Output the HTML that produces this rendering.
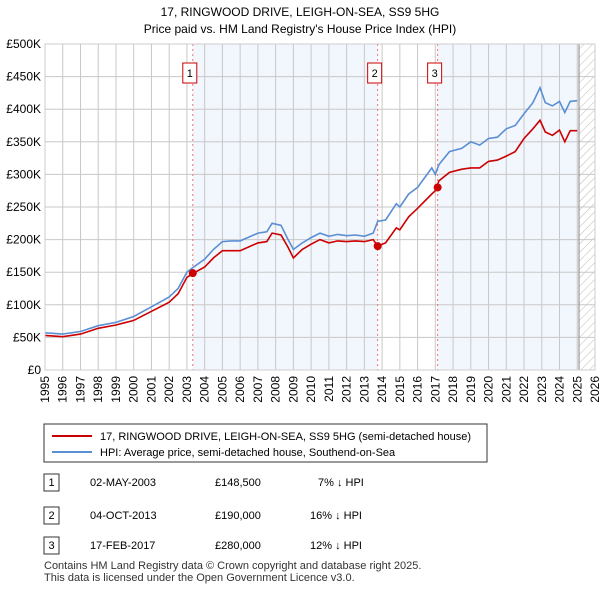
<!DOCTYPE html>
<html><head><meta charset="utf-8"><style>
body{margin:0;background:#fff;font-family:"Liberation Sans","DejaVu Sans",sans-serif;}
svg text{font-family:"Liberation Sans","DejaVu Sans",sans-serif;}
</style></head><body>
<svg width="600" height="590" xmlns="http://www.w3.org/2000/svg">
<defs><pattern id="hatch" width="6" height="6" patternUnits="userSpaceOnUse" patternTransform="rotate(45)"><line x1="0" y1="0" x2="0" y2="6" stroke="#bbb" stroke-width="1"/></pattern></defs>
<text x="300" y="16" text-anchor="middle" font-size="12">17, RINGWOOD DRIVE, LEIGH-ON-SEA, SS9 5HG</text>
<text x="300" y="33" text-anchor="middle" font-size="12">Price paid vs. HM Land Registry's House Price Index (HPI)</text>
<g id="plot"></g>
<g>
<rect x="44" y="424" width="443" height="38" fill="#fff" stroke="#333"/>
<line x1="52" y1="436" x2="92" y2="436" stroke="#cc0000" stroke-width="2"/>
<text x="100" y="440" font-size="11">17, RINGWOOD DRIVE, LEIGH-ON-SEA, SS9 5HG (semi-detached house)</text>
<line x1="52" y1="452" x2="92" y2="452" stroke="#5b8fd4" stroke-width="2"/>
<text x="100" y="456" font-size="11">HPI: Average price, semi-detached house, Southend-on-Sea</text>
</g>
<g font-size="11">
<rect x="44" y="474" width="15" height="17" fill="#fff" stroke="#333"/><text x="51.5" y="486" text-anchor="middle">1</text>
<text x="90" y="486">02-MAY-2003</text><text x="215" y="486">£148,500</text><text x="318" y="486">7% ↓ HPI</text>
<rect x="44" y="507" width="15" height="17" fill="#fff" stroke="#333"/><text x="51.5" y="519" text-anchor="middle">2</text>
<text x="90" y="519">04-OCT-2013</text><text x="215" y="519">£190,000</text><text x="310" y="519">16% ↓ HPI</text>
<rect x="44" y="537" width="15" height="17" fill="#fff" stroke="#333"/><text x="51.5" y="549" text-anchor="middle">3</text>
<text x="90" y="549">17-FEB-2017</text><text x="215" y="549">£280,000</text><text x="310" y="549">12% ↓ HPI</text>
</g>
<text x="44" y="569" font-size="11" fill="#333">Contains HM Land Registry data © Crown copyright and database right 2025.</text>
<text x="44" y="581" font-size="11" fill="#333">This data is licensed under the Open Government Licence v3.0.</text>
</svg>
<script>
const years=[1995,1996,1997,1998,1999,2000,2001,2002,2002.5,2003,2003.33,2004,2004.5,2005,2005.5,2006,2007,2007.5,2007.8,2008.3,2008.7,2009,2009.5,2010,2010.5,2011,2011.5,2012,2012.5,2013,2013.5,2013.75,2014.2,2014.8,2015,2015.5,2016,2016.8,2017,2017.2,2017.8,2018.5,2019,2019.5,2020,2020.5,2021,2021.5,2022,2022.5,2022.9,2023.2,2023.6,2024,2024.3,2024.6,2025];
const hpiValues=[57,55,59,68,73,82,97,112,125,150,157,170,185,197,198,198,210,212,225,222,200,185,195,203,210,205,208,206,207,205,210,228,230,255,250,270,280,310,300,315,335,340,350,345,355,357,370,375,393,410,433,410,405,412,395,412,413];
const priceValues=[53,51,55,64,69,76,90,104,117,142,148,158,172,183,183,183,195,197,210,207,188,172,185,193,200,195,198,197,198,197,200,190,195,218,215,235,248,270,275,290,303,308,310,310,320,322,328,335,355,370,383,365,360,368,350,367,367];
const saleYears=[2003.33,2013.75,2017.13];
const salePrices=[148.5,190,280];
const yTicks=[0,50,100,150,200,250,300,350,400,450,500];
const yLabels=["£0","£50K","£100K","£150K","£200K","£250K","£300K","£350K","£400K","£450K","£500K"];
const xTicks=[1995,1996,1997,1998,1999,2000,2001,2002,2003,2004,2005,2006,2007,2008,2009,2010,2011,2012,2013,2014,2015,2016,2017,2018,2019,2020,2021,2022,2023,2024,2025,2026];
const X0=45,X1=595,Y0=370,Y1=44;
const sx=y=>X0+(y-1995)/(2026-1995)*(X1-X0);
const sy=v=>Y0-v/500*(Y0-Y1);
const NS="http://www.w3.org/2000/svg";
const plot=document.getElementById('plot');
function mk(t,a){const e=document.createElementNS(NS,t);for(const k in a)e.setAttribute(k,a[k]);plot.appendChild(e);return e;}
let r=mk('rect',{x:sx(saleYears[0]),y:Y1,width:sx(saleYears[1])-sx(saleYears[0]),height:Y0-Y1,fill:'#f2f6fd'});

r=mk('rect',{x:sx(saleYears[2]),y:Y1,width:sx(2025.1)-sx(saleYears[2]),height:Y0-Y1,fill:'#f2f6fd'});

r=mk('rect',{x:sx(2025.1),y:Y1,width:X1-sx(2025.1),height:Y0-Y1,fill:'url(#hatch)'});

yTicks.forEach((v,i)=>{const l=mk('line',{x1:X0,x2:X1,y1:sy(v),y2:sy(v),stroke:'#c8c8c8'});

const t=mk('text',{x:X0-4,y:sy(v)+4,'text-anchor':'end','font-size':12});t.textContent=yLabels[i];
});
xTicks.forEach(y=>{const l=mk('line',{x1:sx(y),x2:sx(y),y1:Y1,y2:Y0,stroke:'#c8c8c8'});

const t=mk('text',{x:0,y:0,'text-anchor':'end','font-size':12,transform:`translate(${sx(y)+4},${Y0+6}) rotate(-90)`});t.textContent=y;
});
let ln=mk('line',{x1:sx(2025.1),x2:sx(2025.1),y1:Y1,y2:Y0,stroke:'#888'});

saleYears.forEach((y,i)=>{const l=mk('line',{x1:sx(y),x2:sx(y),y1:Y1,y2:Y0,stroke:'#f07070','stroke-dasharray':'2,3'});

const b=mk('rect',{x:sx(y)-10,y:63,width:14,height:20,fill:'#fff',stroke:'#cc0000'});

const t=mk('text',{x:sx(y)-3,y:77,'text-anchor':'middle','font-size':11});t.textContent=i+1;
});
const path=vals=>vals.map((v,i)=>(i?'L':'M')+sx(years[i]).toFixed(1)+','+sy(v).toFixed(1)).join('');
let p=mk('path',{d:path(hpiValues),fill:'none',stroke:'#5b8fd4','stroke-width':1.6});

p=mk('path',{d:path(priceValues),fill:'none',stroke:'#cc0000','stroke-width':1.6});

saleYears.forEach((y,i)=>{const c=mk('circle',{cx:sx(y),cy:sy(salePrices[i]),r:4,fill:'#cc0000'});
});
let f=mk('rect',{x:X0,y:Y1,width:X1-X0,height:Y0-Y1,fill:'none',stroke:'#ccc'});

</script>
</body></html>
